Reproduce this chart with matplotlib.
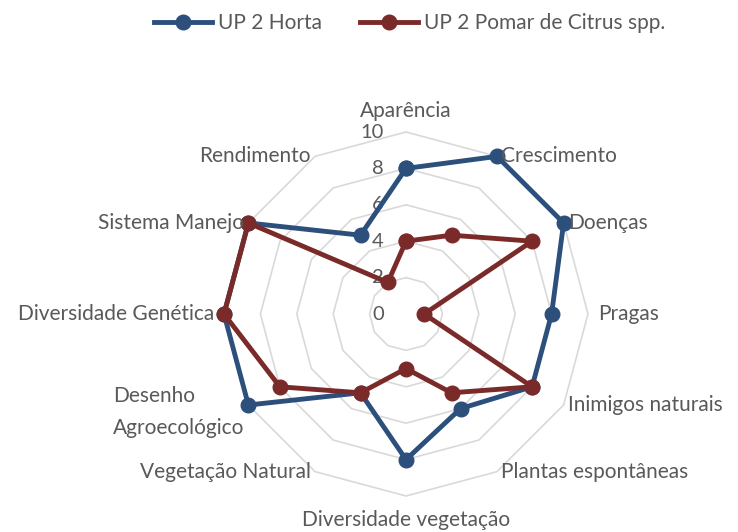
import numpy as np
import matplotlib
matplotlib.use('Agg')
from matplotlib import pyplot as plt

plt.rcParams['font.family'] = ['Lato', 'DejaVu Sans']

categories = ['Aparência', 'Crescimento', 'Doenças', 'Pragas', 'Inimigos naturais',
              'Plantas espontâneas', 'Diversidade vegetação', 'Vegetação Natural',
              'Desenho\nAgroecológico', 'Diversidade Genética', 'Sistema Manejo', 'Rendimento']
horta = [8, 10, 10, 8, 8, 6, 8, 5, 10, 10, 10, 5]
pomar = [4, 5, 8, 1, 8, 5, 3, 5, 8, 10, 10, 2]
rings = [2, 4, 6, 8, 10]
series_names = ['UP 2 Horta', 'UP 2 Pomar de Citrus spp.']
colors = ['#2c4f7c', '#7b2a2a']
text_color = '#595959'

n = len(categories)
theta = np.linspace(0, 2 * np.pi, n, endpoint=False)
theta_c = np.append(theta, theta[0])

fig = plt.figure(figsize=(7.38, 5.32), dpi=100)
ax = fig.add_axes([224 / 738, 36 / 532, 364 / 738, 364 / 532], projection='polar')
ax.set_theta_zero_location('N')
ax.set_theta_direction(-1)
ax.set_ylim(0, 10)
ax.grid(False)
ax.spines['polar'].set_visible(False)
ax.set_xticks([])
ax.set_yticks([])
ax.patch.set_alpha(0)

# polygon gridlines
for r in rings:
    ax.plot(theta_c, [r] * (n + 1), color='#d9d9d9', lw=1.2, zorder=1, clip_on=False)

# radial tick labels
for r in [0] + rings:
    ax.annotate(str(r), (0, r), xytext=(-16, 0), textcoords='offset points',
                ha='right', va='center', fontsize=14.5, color=text_color,
                annotation_clip=False)

lines = []
for vals, c, name in zip([horta, pomar], colors, series_names):
    v = np.append(vals, vals[0])
    ln, = ax.plot(theta_c, v, color=c, lw=3.5, marker='o', ms=10.5, label=name,
                  zorder=3, clip_on=False)
    lines.append(ln)

# category labels
for t, lab in zip(theta, categories):
    s = np.sin(t)
    cth = np.cos(t)
    if abs(s) < 0.01:
        ha = 'center'
        va = 'bottom' if cth > 0 else 'top'
        off = (0, 8 if cth > 0 else -10)
    else:
        ha = 'left' if s > 0 else 'right'
        va = 'center'
        off = (3 * np.sign(s), 0)
        if abs(cth) < 0.01:
            off = (7 * np.sign(s), 0)
        if '\n' in lab:
            off = (off[0], -5)
    ax.annotate(lab, (t, 10), xytext=off, textcoords='offset points', ha=ha, va=va,
                fontsize=15, color=text_color, annotation_clip=False,
                multialignment='left', linespacing=1.7)

fig.legend(handles=lines, loc='upper center', bbox_to_anchor=(0.555, 1.01), ncol=2,
           frameon=False, fontsize=15, labelcolor=text_color, handlelength=2.8,
           columnspacing=1.8, handletextpad=0.3)

plt.savefig('out.png', dpi=100)
